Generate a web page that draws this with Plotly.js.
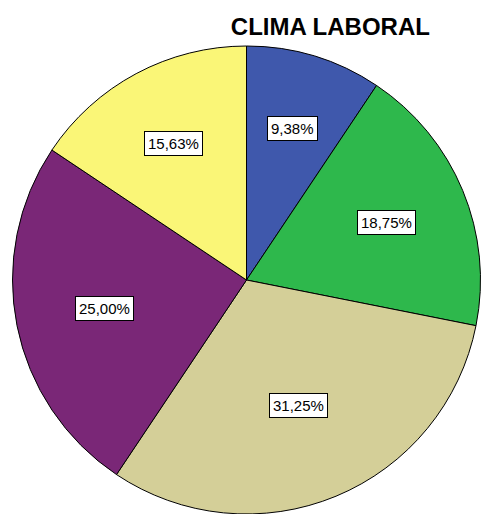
<!DOCTYPE html>
<html>
<head>
<meta charset="utf-8">
<script src="https://cdn.plot.ly/plotly-3.0.1.min.js"></script>
<style>html,body{margin:0;padding:0;background:#fff;}#chart{width:481px;height:514px;}</style>
</head>
<body>
<div id="chart"></div>
<script>
const categories = ["Categoría 1", "Categoría 2", "Categoría 3", "Categoría 4", "Categoría 5"];
const values = [9.38, 18.75, 31.25, 25.00, 15.63];
const colors = ["#3F58AC", "#2EB84C", "#D4CF98", "#7A2777", "#FAF677"];
const chartTitle = "CLIMA LABORAL";

const W = 481, H = 514;
const margin = {l: 12, r: 0, t: 46, b: 0};
const plotW = W - margin.l - margin.r;
const plotH = H - margin.t - margin.b;
const R = Math.min(plotW, plotH) / 2;

const total = values.reduce((a, b) => a + b, 0);
let cum = 0;
const annotations = values.map((v) => {
  const half = v / total * Math.PI;           // half-angle of the slice
  const mid = (cum + v / 2) / total * 2 * Math.PI;
  cum += v;
  // sector centroid distance, slightly pushed outward
  const rf = 1.03 * (2 / 3) * Math.sin(half) / half;
  const xPx = Math.sin(mid) * R * rf;
  const yPx = Math.cos(mid) * R * rf;
  return {
    xref: "paper", yref: "paper",
    x: 0.5 + xPx / plotW,
    y: 0.5 + yPx / plotH,
    text: v.toFixed(2).replace(".", ",") + "%",
    showarrow: false,
    font: {family: "Liberation Sans, Arial, sans-serif", size: 15, color: "#000"},
    bgcolor: "#ffffff",
    bordercolor: "#000000",
    borderwidth: 1,
    borderpad: 3,
    xanchor: "center", yanchor: "middle"
  };
});

const trace = {
  type: "pie",
  labels: categories,
  values: values,
  sort: false,
  direction: "clockwise",
  rotation: 0,
  marker: {colors: colors, line: {color: "#000000", width: 1}},
  textinfo: "none",
  hoverinfo: "label+percent",
  domain: {x: [0, 1], y: [0, 1]}
};

const layout = {
  width: W, height: H,
  margin: margin,
  paper_bgcolor: "#ffffff",
  showlegend: false,
  title: {
    text: "<b>" + chartTitle + "</b>",
    font: {family: "Liberation Sans, Arial, sans-serif", size: 24, color: "#000"},
    x: 326.5 / W, xref: "paper", xanchor: "center",
    y: 1 - 27 / H, yref: "container", yanchor: "middle"
  },
  annotations: annotations
};

Plotly.newPlot("chart", [trace], layout, {staticPlot: true, displayModeBar: false});
</script>
</body>
</html>
